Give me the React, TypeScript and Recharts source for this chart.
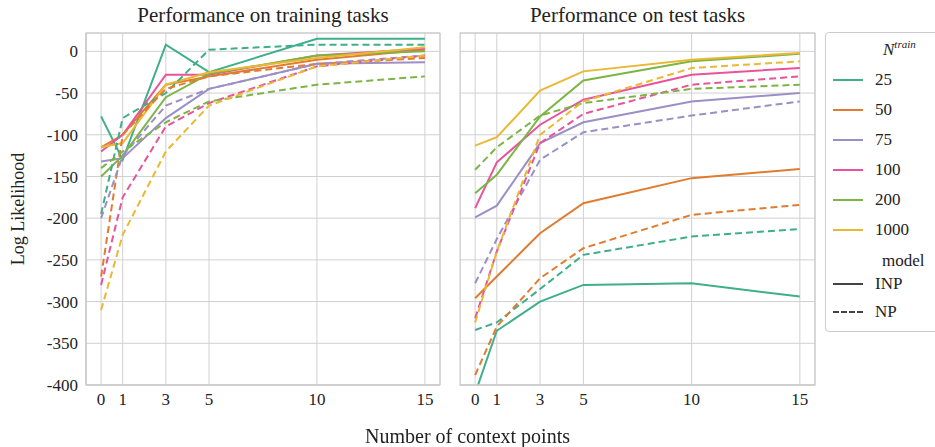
import React from "react";
import { LineChart, Line, XAxis, YAxis, CartesianGrid } from "recharts";

const xs = [0, 1, 3, 5, 10, 15];
const ntrain = ["25", "50", "75", "100", "200", "1000"];
const colors = ["#3fae8a", "#e07b2f", "#9b8fc6", "#e8539b", "#7db545", "#e9b935"];

const trainINP = [
  [-78, -130, 8, -25, 15, 15],
  [-115, -100, -40, -30, -10, 2],
  [-132, -128, -80, -45, -15, -13],
  [-120, -100, -28, -28, -5, 3],
  [-150, -125, -55, -27, -5, 0],
  [-115, -110, -40, -25, -8, 5],
];
const trainNP = [
  [-195, -80, -50, 2, 8, 8],
  [-270, -100, -45, -30, -15, -8],
  [-200, -125, -65, -45, -15, -5],
  [-280, -175, -90, -62, -18, -5],
  [-140, -120, -85, -60, -40, -30],
  [-310, -220, -120, -65, -18, -5],
];
const testINP = [
  [-410, -335, -300, -280, -278, -294],
  [-296, -270, -218, -182, -152, -141],
  [-199, -185, -110, -85, -60, -50],
  [-188, -133, -88, -58, -28, -20],
  [-170, -148, -78, -35, -12, -3],
  [-113, -103, -47, -24, -10, -2],
];
const testNP = [
  [-334, -325, -285, -244, -222, -213],
  [-388, -330, -272, -236, -196, -184],
  [-278, -225, -130, -97, -77, -60],
  [-320, -240, -110, -75, -40, -30],
  [-142, -115, -77, -62, -45, -40],
  [-325, -240, -100, -60, -20, -12],
];
const yTicks = [0, -50, -100, -150, -200, -250, -300, -350, -400];

const font = "Liberation Serif, serif";

function rows(inp: number[][], np: number[][]) {
  return xs.map((x, i) => {
    const r: any = { x };
    ntrain.forEach((n, k) => {
      r["i" + n] = inp[k][i];
      r["n" + n] = np[k][i];
    });
    return r;
  });
}

function Panel({ data, showY, left, width }: any) {
  return (
    <div style={{ position: "absolute", left, top: 0, fontFamily: font }}>
      <LineChart width={width} height={447} data={data} style={{ fontFamily: font }}
        margin={{ top: 33, right: 5, bottom: 32, left: 0 }}>
        <CartesianGrid stroke="#d0d0d0" strokeWidth={1} fill="#fff" />
        <XAxis dataKey="x" type="number" domain={[-0.7, 15.7]} ticks={xs}
          height={30} tick={{ fill: "#222", fontSize: 17, fontFamily: font }}
          tickLine={false} axisLine={{ stroke: "#c8c8c8" }} allowDataOverflow />
        <YAxis type="number" domain={[-400, 22]} ticks={yTicks} hide={!showY}
          width={86} tick={{ fill: "#222", fontSize: 17, fontFamily: font }}
          tickLine={false} axisLine={{ stroke: "#c8c8c8" }} allowDataOverflow />
        {ntrain.map((n, k) => (
          <Line key={"i" + n} dataKey={"i" + n} stroke={colors[k]} strokeWidth={2}
            dot={false} isAnimationActive={false} />
        ))}
        {ntrain.map((n, k) => (
          <Line key={"n" + n} dataKey={"n" + n} stroke={colors[k]} strokeWidth={2}
            strokeDasharray="7 4" dot={false} isAnimationActive={false} />
        ))}
      </LineChart>
    </div>
  );
}

export default function App() {
  const t = { position: "absolute" as const, fontFamily: font, color: "#222" };
  return (
    <div style={{ position: "fixed", left: 0, top: 0, width: 935, height: 447, background: "#fff", fontFamily: font }}>
      <Panel data={rows(trainINP, trainNP)} showY left={0} width={445} />
      <Panel data={rows(testINP, testNP)} showY={false} left={460} width={360} />
      <svg style={{ position: "absolute", left: 0, top: 0 }} width={935} height={447}>
        <rect x={86} y={33} width={354} height={352} fill="none" stroke="#c8c8c8" />
        <rect x={460} y={33} width={355} height={352} fill="none" stroke="#c8c8c8" />
      </svg>
      <div style={{ ...t, left: 86, width: 354, top: 3, textAlign: "center", fontSize: 21 }}>Performance on training tasks</div>
      <div style={{ ...t, left: 460, width: 355, top: 3, textAlign: "center", fontSize: 21 }}>Performance on test tasks</div>
      <div style={{ ...t, left: 0, width: 935, top: 425, textAlign: "center", fontSize: 20 }}>Number of context points</div>
      <div style={{ ...t, left: 18, top: 209, fontSize: 18, transform: "translate(-50%,-50%) rotate(-90deg)", whiteSpace: "nowrap" }}>Log Likelihood</div>
      <div style={{ position: "absolute", left: 825, top: 32, width: 112, height: 298, border: "1px solid #ccc", borderRadius: 4, background: "#fff" }} />
      <div style={{ ...t, left: 883, top: 38, fontSize: 17, fontStyle: "italic" }}>N<sup style={{ fontSize: 11 }}>train</sup></div>
      {ntrain.map((n, k) => (
        <div key={n} style={{ ...t, left: 833, top: 70 + k * 30, fontSize: 17, display: "flex", alignItems: "center" }}>
          <span style={{ display: "inline-block", width: 30, height: 2, background: colors[k], marginRight: 12 }} />{n}
        </div>
      ))}
      <div style={{ ...t, left: 882, top: 251, fontSize: 17 }}>model</div>
      <div style={{ ...t, left: 833, top: 274, fontSize: 17, display: "flex", alignItems: "center" }}>
        <span style={{ display: "inline-block", width: 30, height: 2, background: "#444", marginRight: 12 }} />INP
      </div>
      <div style={{ ...t, left: 833, top: 302, fontSize: 17, display: "flex", alignItems: "center" }}>
        <span style={{ display: "inline-block", width: 30, height: 0, borderTop: "2px dashed #444", marginRight: 12 }} />NP
      </div>
    </div>
  );
}
